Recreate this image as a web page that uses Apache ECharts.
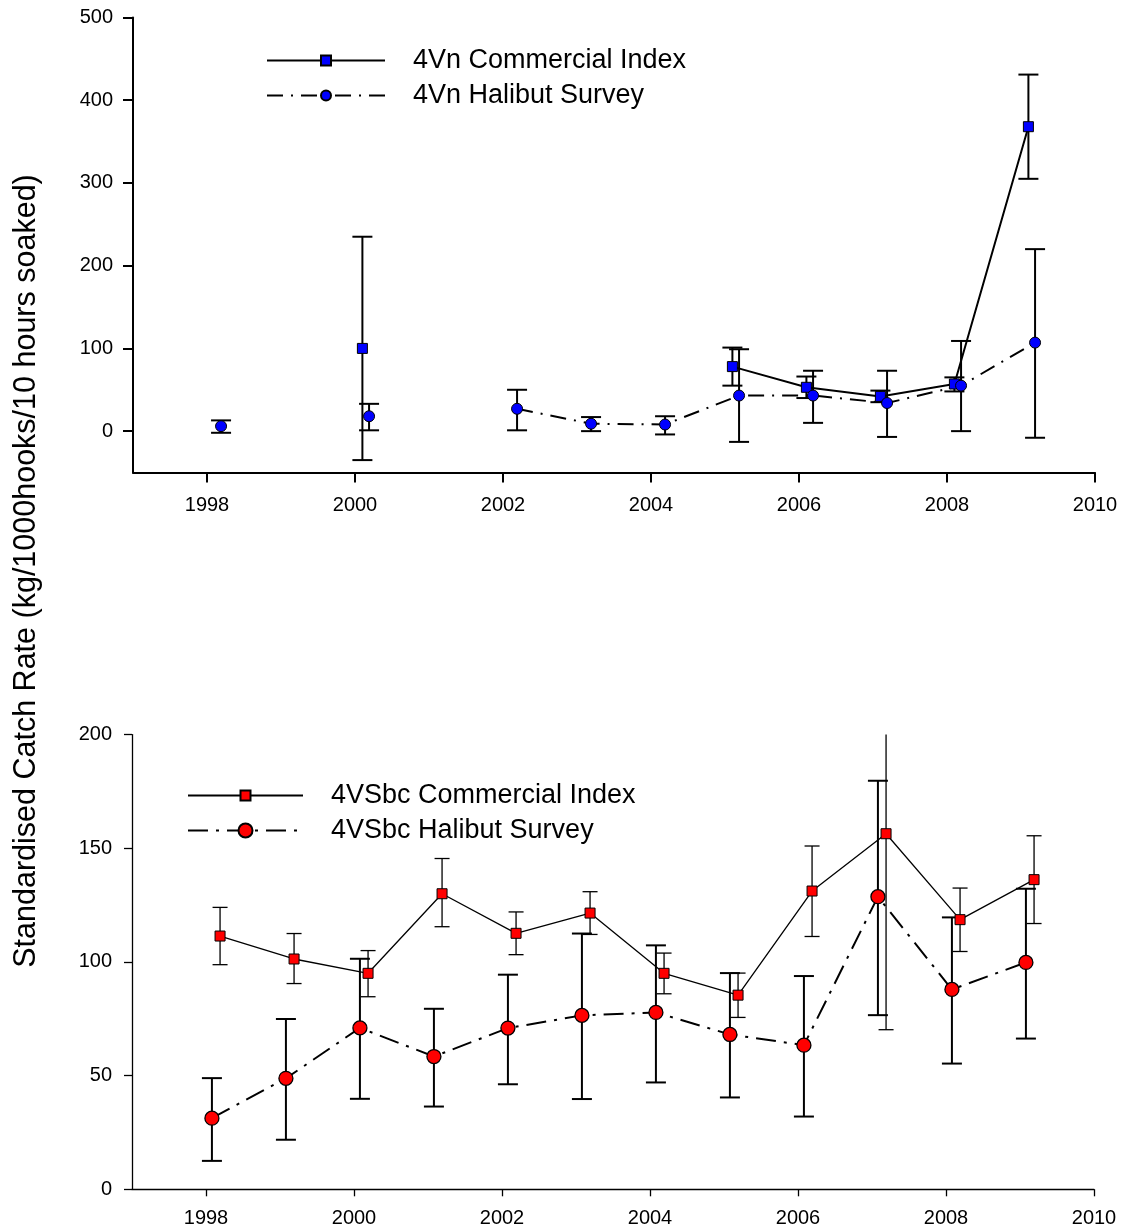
<!DOCTYPE html>
<html>
<head>
<meta charset="utf-8">
<script src="https://cdn.jsdelivr.net/npm/echarts@6/dist/echarts.min.js"></script>
<style>
html,body{margin:0;padding:0;background:#fff;}
#chart{width:1125px;height:1230px;}
</style>
</head>
<body>
<div id="chart"></div>
<script>
// ---------- DATA ----------
const years = [1998, 1999, 2000, 2001, 2002, 2003, 2004, 2005, 2006, 2007, 2008, 2009];
const xTickValues = [1998, 2000, 2002, 2004, 2006, 2008, 2010];
const yTicksTop = [0, 100, 200, 300, 400, 500];
const yTicksBottom = [0, 50, 100, 150, 200];

// 4Vn (top panel)
const vnCommercial      = [null, null, 100, null, null, null, null, 78, 53, 42, 57, 368];
const vnCommercialLower = [null, null, -35, null, null, null, null, 55, 40, 35, 48, 305];
const vnCommercialUpper = [null, null, 235, null, null, null, null, 101, 66, 49, 65, 431];
const vnSurvey      = [6, null, 18, null, 27, 9, 8, 43, 43, 34, 55, 107];
const vnSurveyLower = [-2, null, 1, null, 1, 0, -4, -13, 10, -7, 0, -8];
const vnSurveyUpper = [13, null, 33, null, 50, 17, 18, 99, 73, 73, 109, 220];

// 4VSbc (bottom panel)
const vsCommercial      = [111.4, 101.3, 95, 130, 112.6, 121.5, 95, 85.4, 131.2, 156.4, 118.6, 136.2];
const vsCommercialLower = [98.8, 90.5, 84.7, 115.5, 103.2, 112.1, 86, 75.6, 111.2, 70.2, 104.6, 116.9];
const vsCommercialUpper = [124, 112.5, 105, 145.5, 122, 130.9, 103.9, 95.1, 151, 242.6, 132.5, 155.5];
const vsSurvey      = [31.3, 48.8, 71, 58.4, 70.9, 76.5, 77.8, 68.1, 63.4, 128.7, 87.9, 99.8];
const vsSurveyLower = [12.5, 21.8, 39.8, 36.4, 46.2, 39.7, 47, 40.4, 32, 76.6, 55.3, 66.3];
const vsSurveyUpper = [48.9, 74.9, 101.4, 79.4, 94.4, 112.5, 107.3, 95.1, 93.8, 179.7, 119.6, 132.2];

const names = {
  vnC: '4Vn Commercial Index',
  vnS: '4Vn Halibut Survey',
  vsC: '4VSbc Commercial Index',
  vsS: '4VSbc Halibut Survey'
};
const yTitle = 'Standardised Catch Rate (kg/1000hooks/10 hours soaked)';

// ---------- PRESENTATION ----------
const FONT = '"Liberation Sans", Arial, sans-serif';
const OFF = { vnC: 0.10, vnS: 0.19, vsC: 0.19, vsS: 0.08 };

function lineData(vals, off) {
  return years.map((y, i) => vals[i] == null ? [y + off, '-'] : [y + off, vals[i]]);
}
function errData(vals, lo, hi, off) {
  const out = [];
  years.forEach((y, i) => { if (vals[i] != null) out.push([y + off, lo[i], hi[i]]); });
  return out;
}
function errorRender(capHalf, lw) {
  return function (params, api) {
    const x = api.value(0), lo = api.value(1), hi = api.value(2);
    const pHi = api.coord([x, hi]);
    const pLo = api.coord([x, lo]);
    const cs = params.coordSys;
    const top = cs.y, bottom = cs.y + cs.height;
    let yT = pHi[1], yB = pLo[1];
    const clipT = yT < top, clipB = yB > bottom;
    if (clipT) yT = top;
    if (clipB) yB = bottom;
    const px = pHi[0];
    const st = { stroke: '#000', lineWidth: lw };
    const ch = [{ type: 'line', shape: { x1: px, y1: yT, x2: px, y2: yB }, style: st }];
    if (!clipT) ch.push({ type: 'line', shape: { x1: px - capHalf, y1: yT, x2: px + capHalf, y2: yT }, style: st });
    if (!clipB) ch.push({ type: 'line', shape: { x1: px - capHalf, y1: yB, x2: px + capHalf, y2: yB }, style: st });
    return { type: 'group', children: ch };
  };
}

function xAxisCfg(grid, lw, tickLen, margin) {
  return {
    type: 'value', gridIndex: grid, min: 1997, max: 2010,
    axisLine: { show: true, onZero: false, lineStyle: { color: '#000', width: lw } },
    axisTick: { show: true, length: tickLen, customValues: xTickValues, lineStyle: { color: '#000', width: lw } },
    axisLabel: { customValues: xTickValues, color: '#000', fontSize: 20, fontFamily: FONT, margin: margin,
      formatter: function (v) { return String(v); } },
    splitLine: { show: false }
  };
}
function yAxisCfg(grid, min, max, ticks, lw, tickLen) {
  return {
    type: 'value', gridIndex: grid, min: min, max: max,
    axisLine: { show: true, onZero: false, lineStyle: { color: '#000', width: lw } },
    axisTick: { show: true, length: tickLen, customValues: ticks, lineStyle: { color: '#000', width: lw } },
    axisLabel: { customValues: ticks, color: '#000', fontSize: 20, fontFamily: FONT, margin: 20,
      formatter: function (v) { return String(v); } },
    splitLine: { show: false }
  };
}

const dashTop = [16, 8, 2, 8];
const dashBot = [20, 8, 3, 8];

function legendCfg(name, left, top, width, iconH) {
  return {
    data: [name], left: left, top: top, orient: 'vertical',
    itemWidth: width, itemHeight: iconH, selectedMode: false,
    padding: 0,
    textStyle: { fontSize: 27, fontFamily: FONT, color: '#000', lineHeight: 27, padding: [0, 0, 0, 23] }
  };
}

const option = {
  animation: false,
  backgroundColor: '#fff',
  grid: [
    { left: 133, right: 30, top: 17.5, height: 455 },
    { left: 132, right: 31, top: 734.6, height: 454.7 }
  ],
  xAxis: [xAxisCfg(0, 2, 10, 23), xAxisCfg(1, 1.3, 7, 19)],
  yAxis: [yAxisCfg(0, -50, 500, yTicksTop, 2, 10), yAxisCfg(1, 0, 200, yTicksBottom, 1.3, 8)],
  legend: [
    legendCfg(names.vnC, 266, 47, 118, 12.5),
    legendCfg(names.vnS, 266, 82, 118, 12.5),
    legendCfg(names.vsC, 187, 782, 115, 12.5),
    legendCfg(names.vsS, 187, 817, 115, 17.5)
  ],
  graphic: [{
    type: 'text', x: 27, y: 571, rotation: Math.PI / 2,
    style: { text: yTitle, font: '30.5px ' + FONT, fill: '#000', textAlign: 'center', textVerticalAlign: 'middle' }
  }],
  series: [
    // error bars
    { type: 'custom', xAxisIndex: 0, yAxisIndex: 0, z: 1, silent: true, encode: { x: 0, y: [1, 2] },
      data: errData(vnCommercial, vnCommercialLower, vnCommercialUpper, OFF.vnC), renderItem: errorRender(10, 2) },
    { type: 'custom', xAxisIndex: 0, yAxisIndex: 0, z: 1, silent: true, encode: { x: 0, y: [1, 2] },
      data: errData(vnSurvey, vnSurveyLower, vnSurveyUpper, OFF.vnS), renderItem: errorRender(10, 2) },
    { type: 'custom', xAxisIndex: 1, yAxisIndex: 1, z: 1, silent: true, encode: { x: 0, y: [1, 2] },
      data: errData(vsCommercial, vsCommercialLower, vsCommercialUpper, OFF.vsC), renderItem: errorRender(7.5, 1.3) },
    { type: 'custom', xAxisIndex: 1, yAxisIndex: 1, z: 1, silent: true, encode: { x: 0, y: [1, 2] },
      data: errData(vsSurvey, vsSurveyLower, vsSurveyUpper, OFF.vsS), renderItem: errorRender(10, 2) },
    // lines with markers
    { name: names.vnC, type: 'line', xAxisIndex: 0, yAxisIndex: 0, z: 3,
      data: lineData(vnCommercial, OFF.vnC), symbol: 'rect', symbolSize: 10, showSymbol: true,
      lineStyle: { color: '#000', width: 2 }, itemStyle: { color: '#0000ff', borderColor: '#000', borderWidth: 1 } },
    { name: names.vnS, type: 'line', xAxisIndex: 0, yAxisIndex: 0, z: 3,
      data: lineData(vnSurvey, OFF.vnS), symbol: 'circle', symbolSize: 11, showSymbol: true,
      lineStyle: { color: '#000', width: 2, type: dashTop }, itemStyle: { color: '#0000ff', borderColor: '#000', borderWidth: 1 } },
    { name: names.vsC, type: 'line', xAxisIndex: 1, yAxisIndex: 1, z: 3,
      data: lineData(vsCommercial, OFF.vsC), symbol: 'rect', symbolSize: 10, showSymbol: true,
      lineStyle: { color: '#000', width: 1.3 }, itemStyle: { color: '#ff0000', borderColor: '#000', borderWidth: 1 } },
    { name: names.vsS, type: 'line', xAxisIndex: 1, yAxisIndex: 1, z: 3,
      data: lineData(vsSurvey, OFF.vsS), symbol: 'circle', symbolSize: 14, showSymbol: true,
      lineStyle: { color: '#000', width: 2, type: dashBot }, itemStyle: { color: '#ff0000', borderColor: '#000', borderWidth: 1.3 } }
  ]
};

const chart = echarts.init(document.getElementById('chart'), null, { renderer: 'canvas' });
chart.setOption(option);
</script>
</body>
</html>
